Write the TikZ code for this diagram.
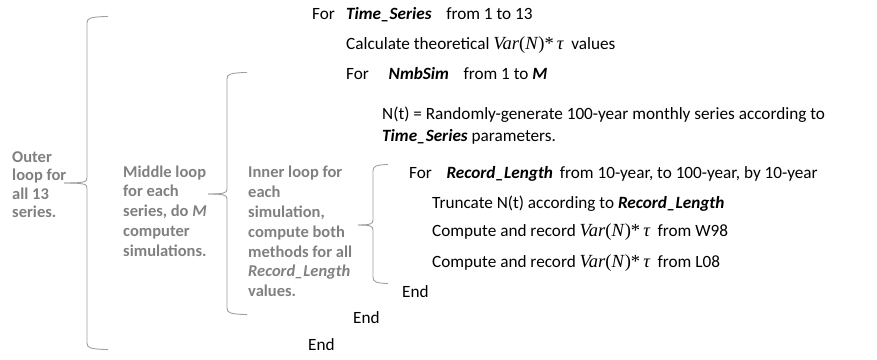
\documentclass[tikz,border=0pt]{standalone}
\usepackage{fontspec}
\setmainfont{Carlito}
\newfontfamily\tms{Liberation Serif}
\definecolor{notegray}{RGB}{128,128,128}
\definecolor{bracegray}{RGB}{160,160,160}
% Var(N)*tau set in a Times-like serif
\newcommand{\vartau}{{\tms\fontsize{18.5}{18.5}\selectfont\itshape Var\/\upshape(\itshape N\/\upshape)*\,\itshape τ}}
\newcommand{\kw}[1]{\textbf{\textit{#1}}}
% left curly brace: x, top, tip, bottom, hook width, tip width
\newcommand{\loopbrace}[6]{%
  \draw[bracegray, line width=0.9pt]
    (#1+#5,#2-0.6) .. controls (#1+3,#2) and (#1,#2+1) .. (#1,#2+6)
    -- (#1,#3-5) .. controls (#1,#3-1) and (#1-3,#3) .. (#1-#6,#3);
  \draw[bracegray, line width=0.9pt]
    (#1-#6,#3) .. controls (#1-3,#3) and (#1,#3+1) .. (#1,#3+5)
    -- (#1,#4-6) .. controls (#1,#4-1) and (#1+3,#4) .. (#1+#5,#4+0.6);
}
\begin{document}
\begin{tikzpicture}[x=1pt,y=-1pt,
  code/.style={anchor=base west, inner sep=0pt, font=\fontsize{17.2}{20}\selectfont},
  note/.style={anchor=west, inner sep=0pt, align=left, text=notegray,
    font=\bfseries\fontsize{16.5}{19.8}\selectfont}]
\useasboundingbox (0,0) rectangle (877,359);

% loop braces
\loopbrace{87}{17}{183}{349}{21}{23}
\loopbrace{227}{73}{194}{314}{20}{19}
\loopbrace{373}{165}{225}{283}{15}{15}

% notes beside the braces
\node[note, font=\bfseries\fontsize{16.5}{18.5}\selectfont] (outer) at (12,184.5)
  {Outer\\loop for\\all 13\\series.};
\node[note] (middle) at (123,211)
  {Middle loop\\for each\\series, do \textit{M}\\computer\\simulations.};
\node[note] (inner) at (248,231.5)
  {Inner loop for\\each\\simulation,\\compute both\\methods for all\\\textit{Record\_Length}\\values.};

% pseudo-code
\node[code] (l1) at (312,19)  {For\hspace{0.65em}\kw{Time\_Series}\hspace{0.85em}from 1 to 13};
\node[code] (l2) at (346,49)  {Calculate theoretical \vartau\ \ values};
\node[code] (l3) at (346,79)  {For\hspace{1.15em}\kw{NmbSim}\hspace{0.85em}from 1 to \kw{M}};
\node[code] (l4) at (382,119) {N(t) = Randomly-generate 100-year monthly series according to};
\node[code] (l5) at (382,141) {\kw{Time\_Series} parameters.};
\node[code] (l6) at (409,178) {For\hspace{0.85em}\kw{Record\_Length}\hspace{0.4em}from 10-year, to 100-year, by 10-year};
\node[code] (l7) at (432,208) {Truncate N(t) according to \kw{Record\_Length}};
\node[code] (l8) at (432,236) {Compute and record \vartau\ \ from W98};
\node[code] (l9) at (432,267) {Compute and record \vartau\ \ from L08};
\node[code] (e1) at (402,297) {End};
\node[code] (e2) at (353,323) {End};
\node[code] (e3) at (308,350) {End};
\end{tikzpicture}
\end{document}
